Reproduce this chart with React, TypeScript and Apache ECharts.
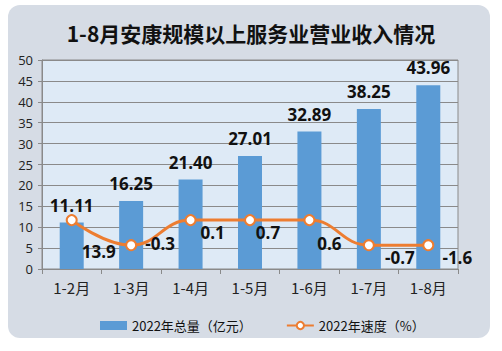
import React, { useEffect, useRef } from "react";
import * as echarts from "echarts";

const categories = ["1-2月", "1-3月", "1-4月", "1-5月", "1-6月", "1-7月", "1-8月"];
const totalRevenue = [11.11, 16.25, 21.4, 27.01, 32.89, 38.25, 43.96];
const growthRate = [13.9, -0.3, 0.1, 0.7, 0.6, -0.7, -1.6];
// height at which each growth marker is drawn, read on the left axis
const growthMarkerLevel = [11.7, 5.7, 11.7, 11.7, 11.7, 5.7, 5.7];
const yTicks = { min: 0, max: 50, interval: 5 };

const LABEL_OFFSETS: [number, number][] = [
  [27, 31],
  [29, -2],
  [22, 12],
  [18, 12],
  [20, 23],
  [31, 12],
  [29, 12],
];

const CJK = "'Noto Sans CJK SC', 'Noto Sans', sans-serif";

export default function App() {
  const ref = useRef<HTMLDivElement>(null);
  useEffect(() => {
    document.body.style.margin = "0";
    const chart = echarts.init(ref.current!, null, { renderer: "svg" });
    chart.setOption({
      animation: false,
      title: {
        text: "1-8月安康规模以上服务业营业收入情况",
        left: "center",
        top: 17,
        textStyle: { fontSize: 21, fontWeight: "bold", color: "#111", fontFamily: CJK },
      },
      grid: {
        left: 42,
        right: 44,
        top: 60,
        bottom: 82,
        show: true,
        backgroundColor: "#DEEAF6",
        borderColor: "#8a8a8a",
        borderWidth: 1,
      },
      legend: {
        left: 95,
        top: 314,
        itemWidth: 27,
        itemHeight: 9,
        itemGap: 34,
        textStyle: { fontSize: 13, color: "#111", fontFamily: CJK },
        data: [
          { name: "2022年总量（亿元）", icon: "rect" },
          { name: "2022年速度（%）" },
        ],
      },
      xAxis: {
        type: "category",
        data: categories,
        axisLine: { lineStyle: { color: "#8a8a8a", width: 1 } },
        axisTick: { show: true, length: 5, lineStyle: { color: "#8a8a8a" } },
        axisLabel: { fontSize: 15, color: "#222", margin: 11, fontFamily: CJK },
      },
      yAxis: {
        type: "value",
        min: yTicks.min,
        max: yTicks.max,
        interval: yTicks.interval,
        axisLine: { show: true, lineStyle: { color: "#8a8a8a", width: 1 } },
        axisTick: { show: true, length: 4, lineStyle: { color: "#8a8a8a" } },
        axisLabel: { fontSize: 13, color: "#222", margin: 9, fontFamily: "'Open Sans', sans-serif" },
        splitLine: { lineStyle: { color: "#8a8a8a", width: 1 } },
      },
      series: [
        {
          name: "2022年总量（亿元）",
          type: "bar",
          data: totalRevenue,
          barWidth: 24,
          itemStyle: { color: "#5B9BD5" },
          label: {
            show: true,
            position: "top",
            distance: 9,
            fontSize: 17,
            fontWeight: "bold",
            color: "#111",
            fontFamily: "'Open Sans', sans-serif",
            formatter: (p: any) => Number(p.value).toFixed(2),
          },
        },
        {
          name: "2022年速度（%）",
          type: "line",
          smooth: 0.45,
          data: growthMarkerLevel.map((v, i) => ({
            value: v,
            label: { offset: LABEL_OFFSETS[i] },
          })),
          symbol: "circle",
          symbolSize: 10,
          color: "#ED7D31",
          lineStyle: { color: "#ED7D31", width: 3 },
          itemStyle: { color: "#ffffff", borderColor: "#ED7D31", borderWidth: 2 },
          label: {
            show: true,
            position: "inside",
            align: "center",
            verticalAlign: "middle",
            fontSize: 17,
            fontWeight: "bold",
            color: "#111",
            fontFamily: "'Open Sans', sans-serif",
            formatter: (p: any) => String(growthRate[p.dataIndex]),
          },
          z: 3,
        },
      ],
    });
    return () => chart.dispose();
  }, []);

  return (
    <div style={{ position: "relative", width: 502, height: 351, background: "#fff" }}>
      <div
        style={{
          position: "absolute",
          left: 8,
          top: 5,
          width: 482,
          height: 333,
          background: "#D6DCE5",
          borderRadius: 12,
        }}
      />
      <div ref={ref} style={{ position: "absolute", left: 0, top: 0, width: 502, height: 351 }} />
    </div>
  );
}
